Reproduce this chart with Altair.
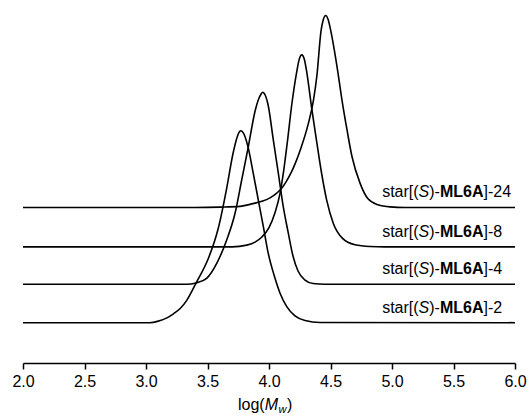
import altair as alt
import pandas as pd

# ---------------- data ----------------
x_domain = [2.0, 6.0]
tick_values = [2.0, 2.25, 2.5, 2.75, 3.0, 3.25, 3.5, 3.75, 4.0, 4.25, 4.5,
               4.75, 5.0, 5.25, 5.5, 5.75, 6.0]

suffixes = ["2", "4", "8", "24"]
offsets = [0.21, 0.41, 0.605, 0.81]   # vertical offset of each trace

x_2 = [2.0, 3.03, 3.10, 3.17, 3.22, 3.28, 3.33, 3.41, 3.504, 3.585, 3.656,
       3.707, 3.74, 3.755, 3.77, 3.79, 3.829, 3.872, 3.913, 3.954, 3.994,
       4.041, 4.089, 4.146, 4.211, 4.293, 4.415, 6.0]
h_2 = [0, 0, 0.008, 0.025, 0.045, 0.075, 0.115, 0.21, 0.33, 0.485, 0.70,
       0.88, 0.965, 0.99, 1.0, 0.99, 0.917, 0.778, 0.639, 0.5, 0.361,
       0.248, 0.155, 0.082, 0.035, 0.011, 0.001, 0]

x_4 = [2.0, 3.331, 3.407, 3.493, 3.575, 3.656, 3.724, 3.778, 3.832, 3.886,
       3.919, 3.935, 3.949, 3.965, 3.994, 4.035, 4.076, 4.116, 4.157, 4.195,
       4.236, 4.293, 4.358, 4.455, 6.0]
h_4 = [0, 0, 0.007, 0.031, 0.109, 0.231, 0.37, 0.543, 0.717, 0.90,
       0.97, 0.99, 1.0, 0.99, 0.93, 0.752, 0.578, 0.404, 0.266, 0.147,
       0.069, 0.022, 0.004, 0, 0]

x_8 = [2.0, 3.70, 3.82, 3.89, 3.94, 4.00, 4.05, 4.09, 4.12, 4.15, 4.185,
       4.225, 4.245, 4.266, 4.286, 4.307, 4.347, 4.388, 4.428, 4.469, 4.523,
       4.598, 4.699, 4.821, 4.943, 6.0]
h_8 = [0, 0, 0.009, 0.026, 0.05, 0.10, 0.18, 0.28, 0.40, 0.55, 0.74,
       0.91, 0.975, 1.0, 0.98, 0.91, 0.722, 0.547, 0.382, 0.243, 0.122,
       0.044, 0.011, 0.002, 0, 0]

x_24 = [2.0, 3.40, 3.602, 3.764, 3.870, 3.943, 4.008, 4.063, 4.103, 4.14,
        4.183, 4.22, 4.26, 4.317, 4.362, 4.390, 4.423, 4.44, 4.461, 4.48,
        4.504, 4.553, 4.593, 4.634, 4.675, 4.740, 4.805, 4.886, 4.984, 5.106,
        6.0]
h_24 = [0, 0, 0.002, 0.006, 0.020, 0.032, 0.05, 0.075, 0.10, 0.135,
        0.185, 0.24, 0.31, 0.43, 0.56, 0.69, 0.92, 0.975, 1.0, 0.98,
        0.915, 0.734, 0.561, 0.405, 0.264, 0.127, 0.045, 0.014, 0.003, 0,
        0]

xs_all = [x_2, x_4, x_8, x_24]
hs_all = [h_2, h_4, h_8, h_24]

# ---------------- build tables ----------------
rows = []
for suf, off, xs, hs in zip(suffixes, offsets, xs_all, hs_all):
    for xv, hv in zip(xs, hs):
        rows.append({"series": suf, "logM": xv, "signal": hv + off})
curves = pd.DataFrame(rows)

labels = pd.DataFrame({"suffix": suffixes, "offset": offsets})
labels["tail"] = "]-" + labels["suffix"]

FONT = "Liberation Sans"
FS = 16
# Arial/Liberation advance widths (1/1000 em) for composing mixed-style labels
ADV = {"s": 500, "t": 278, "a": 556, "r": 333, "[": 278, "(": 333, ")": 333,
       "-": 333, "]": 278, "S": 667, "M": 833, "L": 611, "6": 556, "A": 722,
       "l": 222, "o": 556, "g": 556, "w": 722}


def width(txt, size=FS):
    return sum(ADV[c] for c in txt) * size / 1000.0


PLOT_W, PLOT_H = 492, 358
y_domain = [0, 1.8646]

xscale = alt.Scale(domain=x_domain, nice=False, zero=False)
yscale = alt.Scale(domain=y_domain, nice=False, zero=False)

major_test = "round(datum.value * 2) == datum.value * 2"

lines = alt.Chart(curves).mark_line(
    interpolate="monotone", color="black", strokeWidth=1.6
).encode(
    x=alt.X("logM:Q", scale=xscale, axis=alt.Axis(
        values=tick_values, title=None, grid=False,
        labelExpr=f"({major_test}) ? format(datum.value, '.1f') : ''",
        labelOverlap=False, labelFlush=False,
        tickSize={"condition": {"test": major_test, "value": 6}, "value": 3},
        tickColor="black", tickWidth=1.5, domainColor="black", domainWidth=1.5,
        labelFont=FONT, labelFontSize=FS, labelColor="black", labelPadding=4,
    )),
    y=alt.Y("signal:Q", scale=yscale, axis=None),
    detail="series:N",
)

# --- curve labels: star[(S)-ML6A]-n with italic S and bold ML6A ---
LABEL_X = 4.92
pieces = [("star[(", "normal", "normal"), ("S", "italic", "normal"),
          (")-", "normal", "normal"), ("ML6A", "normal", "bold")]
label_layers = []
dx = 0.0
for txt, style, weight in pieces:
    label_layers.append(
        alt.Chart(labels).mark_text(
            text=txt, align="left", baseline="alphabetic", dx=dx, dy=-10,
            font=FONT, fontSize=FS, fontStyle=style, fontWeight=weight,
            color="black",
        ).encode(x=alt.datum(LABEL_X), y=alt.Y("offset:Q", scale=yscale, axis=None))
    )
    dx += width(txt)
label_layers.append(
    alt.Chart(labels).mark_text(
        align="left", baseline="alphabetic", dx=dx, dy=-10,
        font=FONT, fontSize=FS, color="black",
    ).encode(x=alt.datum(LABEL_X), y=alt.Y("offset:Q", scale=yscale, axis=None),
             text="tail:N")
)

# --- axis title log(M_w) ---
title_df = pd.DataFrame({"k": [0]})
TITLE_Y = 405
title_layers = []
t_pieces = [("log(", "normal", FS, 0), ("M", "italic", FS, 0),
            ("w", "italic", 11, 3), (")", "normal", FS, 0)]
cur = -31.0
for txt, style, size, shift in t_pieces:
    title_layers.append(
        alt.Chart(title_df).mark_text(
            text=txt, align="left", baseline="alphabetic", dx=cur,
            font=FONT, fontSize=size, fontStyle=style, color="black",
        ).encode(x=alt.datum(4.0), y=alt.value(TITLE_Y + shift))
    )
    cur += width(txt, size) + (0.5 if style == "italic" else 0)

chart = alt.layer(lines, *label_layers, *title_layers).properties(
    width=PLOT_W, height=PLOT_H,
    autosize=alt.AutoSizeParams(type="none"),
    padding={"left": 23, "top": 5, "right": 15, "bottom": 53},
    background="white",
).configure_view(stroke=None)

chart.save("out.html", embed_options={"renderer": "svg", "actions": False})
